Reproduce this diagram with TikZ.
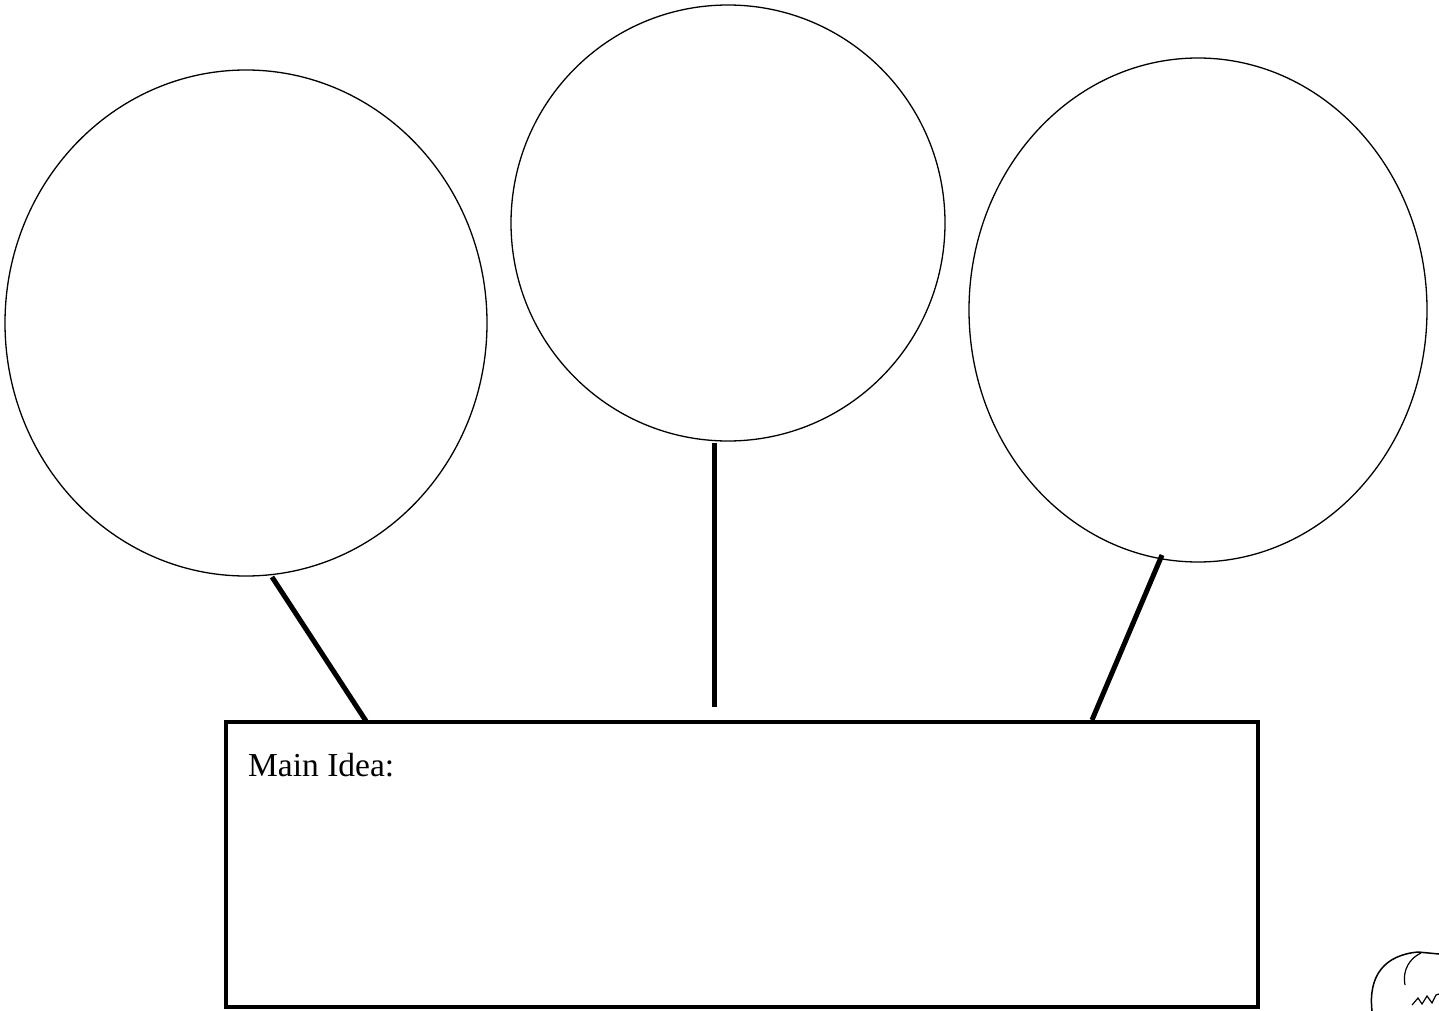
\documentclass[tikz,border=0pt]{standalone}
\usepackage{fontspec}
\setmainfont{Liberation Serif}
\begin{document}
\begin{tikzpicture}[x=1pt,y=-1pt,
  bubble/.style={draw,line width=1.3pt},
  stem/.style={line width=5pt},
  ideabox/.style={draw,line width=4.8pt}]
\useasboundingbox (0,0) rectangle (1439,1011);
\draw[bubble] (246,323) ellipse [x radius=241, y radius=253];
\draw[bubble] (728,223) ellipse [x radius=217, y radius=218];
\draw[bubble] (1198,310) ellipse [x radius=229, y radius=252];
\coordinate (l1) at (272,577);
\coordinate (l2) at (366,721);
\coordinate (m1) at (714,443);
\coordinate (m2) at (714,707);
\coordinate (r1) at (1162,555);
\coordinate (r2) at (1092,720);
\draw[stem] (l1) -- (l2);
\draw[stem] (m1) -- (m2);
\draw[stem] (r1) -- (r2);
\draw[ideabox] (226,722) rectangle (1258,1007);
\node[anchor=base west,inner sep=0pt,font=\fontsize{33.5}{38}\selectfont] (mi) at (248,776) {Main Idea:};
\draw[line width=1.5pt] (1372,1011) .. controls (1368,975) and (1385,955) .. (1418,952) -- (1439,954);
\draw[line width=1.2pt] (1405,985) .. controls (1402,970) and (1410,958) .. (1421,953);
\draw[line width=1.2pt] (1412,1005) -- (1418,998) -- (1422,1004) -- (1427,996) -- (1432,1003) -- (1436,995) -- (1439,994);
\end{tikzpicture}
\end{document}
